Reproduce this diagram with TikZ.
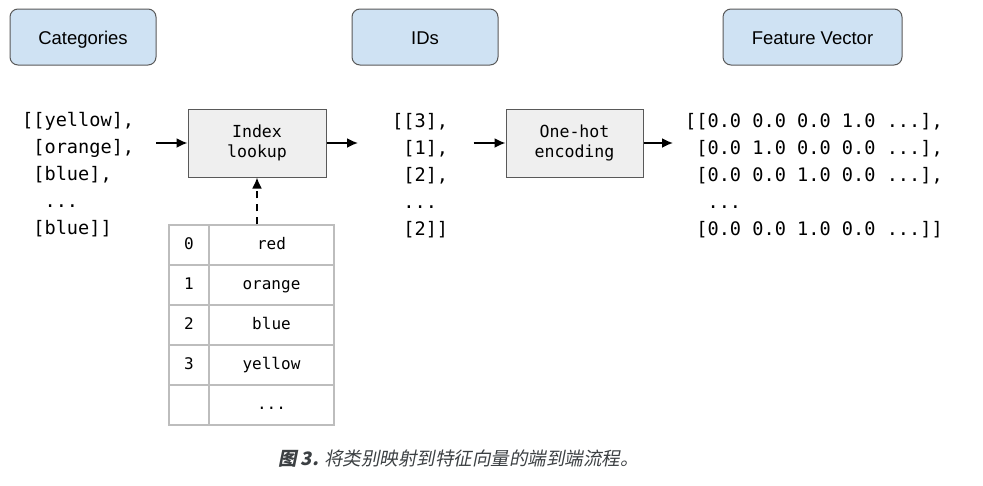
\documentclass[tikz,border=0pt]{standalone}
\usepackage{fontspec}
\setsansfont{Liberation Sans}
\setmonofont{DejaVu Sans Mono}
\newfontfamily\cjk{Noto Sans CJK SC}[FakeSlant=0.2]
\usetikzlibrary{arrows.meta,positioning}
\definecolor{headblue}{HTML}{CFE2F3}
\definecolor{boxgray}{HTML}{EFEFEF}
\definecolor{edgegray}{HTML}{595959}
\definecolor{tabline}{HTML}{BDBDBD}
\definecolor{capgray}{HTML}{3C4043}
\tikzset{
    header/.style = {draw=edgegray, fill=headblue, rounded corners=8pt, line width=1pt,
        minimum height=56pt, minimum width=146pt, text height=14pt, text depth=0pt,
        font=\sffamily\fontsize{18.5}{20}\selectfont},
    block/.style = {draw=edgegray, fill=boxgray, line width=1pt,
        minimum height=68pt, minimum width=138pt, align=center,
        font=\ttfamily\fontsize{16.6}{20}\selectfont},
    listing/.style = {align=left, inner sep=0pt, anchor=north west,
        font=\ttfamily\fontsize{18.6}{27}\selectfont},
    cell/.style = {draw=tabline, line width=1.2pt, minimum height=40pt, inner sep=0pt,
        text height=12pt, text depth=3.5pt, font=\ttfamily\fontsize{16}{18}\selectfont},
    input/.style = {coordinate},
    arrow/.style = {draw, line width=1.8pt, -{Latex[length=11pt,width=10pt]}}
}
\def\tabdots{...}

\begin{document}
\begin{tikzpicture}[x=1pt, y=-1pt, node distance=101pt]
    \useasboundingbox (0,0) rectangle (983,485);
    \node [header] (cathead) at (83,37) {Categories};
    \node [header] (idhead) at (425,37) {IDs};
    \node [header, minimum width=179pt] (vechead) at (812.5,37) {Feature Vector};
    \node [block] (lookup) at (257,143) {Index\\lookup};
    \node [block, minimum width=137pt] (onehot) at (574.5,143) {One-hot\\encoding};
    \node [input, left of=lookup, name=in1] {};
    \node [input, right of=lookup, name=out1] {};
    \node [input, left of=onehot, name=in2] {};
    \node [input, right of=onehot, node distance=98.5pt, name=out2] {};
    \node [listing] (cats) at (22,112) {[[yellow],\\\hphantom{[}[orange],\\\hphantom{[}[blue],\\\hphantom{[[}...\\\hphantom{[}[blue]]};
    \node [listing] (ids) at (392,113) {[[3],\\\hphantom{[}[1],\\\hphantom{[}[2],\\\hphantom{[}...\\\hphantom{[}[2]]};
    \node [listing] (vecs) at (685,113) {[[0.0 0.0 0.0 1.0 ...],\\\hphantom{[}[0.0 1.0 0.0 0.0 ...],\\\hphantom{[}[0.0 0.0 1.0 0.0 ...],\\\hphantom{[[}...\\\hphantom{[}[0.0 0.0 1.0 0.0 ...]]};
    \foreach \i/\v [count=\r from 0] in {0/red,1/orange,2/blue,3/yellow,{}/\tabdots} {
        \node [cell, minimum width=40pt] (idx\r) at (189,245+40*\r) {\i};
        \node [cell, minimum width=125pt] (val\r) at (271.5,245+40*\r) {\v};
    }
    \coordinate (tabtop) at (lookup |- val0.north);
    \draw [arrow] (in1) -- (lookup);
    \draw [arrow] (lookup) -- (out1);
    \draw [arrow] (in2) -- (onehot);
    \draw [arrow] (onehot) -- (out2);
    \draw [arrow, dash pattern=on 7pt off 6pt] (tabtop) -- (lookup);
    \node [text=capgray, font=\fontsize{18.5}{20}\selectfont] (caption) at (458.5,459) {\cjk\textbf{图 3.} 将类别映射到特征向量的端到端流程。};
\end{tikzpicture}
\end{document}
